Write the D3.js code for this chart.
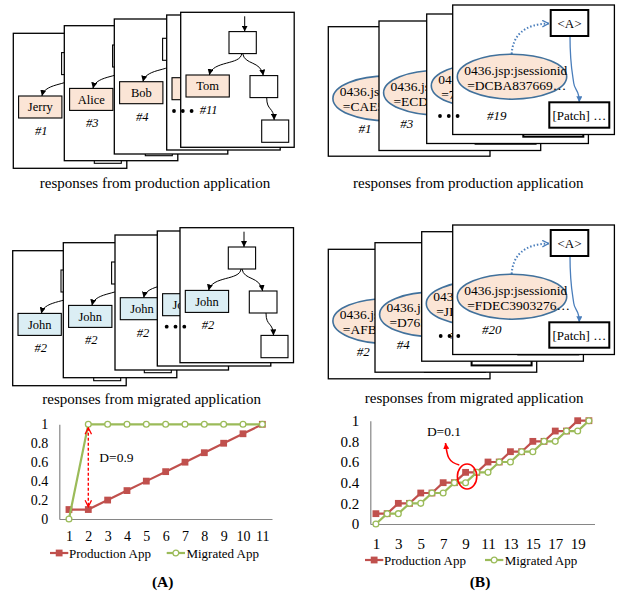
<!DOCTYPE html>
<html>
<head>
<meta charset="utf-8">
<title></title>
<script src="https://cdn.jsdelivr.net/npm/d3@7"></script>
<style>
    body { margin: 0; background: #fff; }
    svg text { font-family: "Liberation Serif", "Times New Roman", serif; fill: #000; }
    .num { font-style: italic; font-size: 12.5px; }
</style>
</head>
<body>
<script>

// ---- chart data ----
var catA  = [1, 2, 3, 4, 5, 6, 7, 8, 9, 10, 11];
var prodA = [0.1, 0.1, 0.2, 0.3, 0.4, 0.5, 0.6, 0.7, 0.8, 0.9, 1.0];
var migA  = [0, 1, 1, 1, 1, 1, 1, 1, 1, 1, 1];

var catB  = [1, 2, 3, 4, 5, 6, 7, 8, 9, 10, 11, 12, 13, 14, 15, 16, 17, 18, 19, 20];
var prodB = [0.1, 0.1, 0.2, 0.2, 0.3, 0.3, 0.4, 0.4, 0.5, 0.5, 0.6, 0.6, 0.7, 0.7, 0.8, 0.8, 0.9, 0.9, 1.0, 1.0];
var migB  = [0, 0.1, 0.1, 0.2, 0.2, 0.3, 0.3, 0.4, 0.4, 0.5, 0.5, 0.6, 0.6, 0.7, 0.7, 0.8, 0.8, 0.9, 0.9, 1.0];

var yTicks   = [0, 0.2, 0.4, 0.6, 0.8, 1];
var xTicksB  = [1, 3, 5, 7, 9, 11, 13, 15, 17, 19];
var seriesNames = ["Production App", "Migrated App"];

// ---- diagram labels ----
var prodNames = ["Jerry", "Alice", "Bob", "Dan", "Tom"];
var prodNums  = ["#1", "#3", "#4", "#8", "#11"];
var migNames  = ["John", "John", "John", "John", "John"];
var migNums   = ["#2", "#2", "#2", "#2", "#2"];
var sessKey      = "0436.jsp:jsessionid";
var sessProdIds  = ["=CAE5B217…", "=ECD90143…", "=7F2A6605…", "=DCBA837669…"];
var sessProdNums = ["#1", "#3", "#12", "#19"];
var sessMigIds   = ["=AFB3C071…", "=D765E192…", "=JIE04A7…", "=FDEC3903276…"];
var sessMigNums  = ["#2", "#4", "#9", "#20"];

var red = "#c0504d", green = "#9bbb59", blue = "#41719c", arrowBlue = "#4a7ebb";

var svg = d3.select("body").append("svg")
        .attr("width", 619)
        .attr("height", 591);

// arrow heads
var defs = svg.append("defs");
function marker(id, color, open) {
    var m = defs.append("marker")
            .attr("id", id)
            .attr("viewBox", "0 0 10 10")
            .attr("refX", open ? 9 : 10)
            .attr("refY", 5)
            .attr("markerUnits", "userSpaceOnUse")
            .attr("markerWidth", open ? 8 : 6)
            .attr("markerHeight", open ? 8 : 6)
            .attr("orient", "auto-start-reverse");
    if (open) {
        m.append("path").attr("d", "M1,1 L9,5 L1,9").attr("fill", "none")
                .attr("stroke", color).attr("stroke-width", 1.6);
    } else {
        m.append("path").attr("d", "M0,0 L10,5 L0,10 z").attr("fill", color);
    }
}
marker("ahBlack", "#000", false);
marker("ahBlue", arrowBlue, false);
marker("vBlue", arrowBlue, true);
marker("vRed", "#ff0000", true);
marker("ahRed", "#ff0000", false);

function box(g, x, y, w, h, fill, sw) {
    return g.append("rect").attr("x", x).attr("y", y).attr("width", w).attr("height", h)
            .attr("fill", fill).attr("stroke", "#000").attr("stroke-width", sw || 1.1);
}

// a card is covered on its right by the next one: keep only the characters
// that start before the edge, and clip the rest
var clipCount = 0;
function cutText(t, limit, clipId) {
    if (limit == null) return;
    var node = t.node(), full = node.textContent, bb = node.getBBox();
    if (bb.x >= limit - 2) { t.remove(); return; }
    if (bb.x + bb.width <= limit) return;
    t.attr("text-anchor", "start").attr("x", bb.x);
    var n = full.length;
    while (n > 1) {
        node.textContent = full.slice(0, n - 1);
        if (node.getComputedTextLength() < limit - bb.x - 1) break;
        n--;
    }
    node.textContent = full.slice(0, n);
    t.attr("clip-path", "url(#" + clipId + ")");
}
function makeClip(limit) {
    var id = "clip" + (clipCount++);
    defs.append("clipPath").attr("id", id).append("rect")
            .attr("x", -5).attr("y", -5).attr("width", limit + 5).attr("height", 200);
    return id;
}

// ---- tree cards (left column) ----
function treeCard(x, y, name, num, fill, limit) {
    var c = svg.append("g").attr("transform", "translate(" + x + "," + y + ")");
    var clipId = limit != null ? makeClip(limit) : null;
    c.append("rect").attr("width", 113.5).attr("height", 135)
            .attr("fill", "#fff").attr("stroke", "#000").attr("stroke-width", 1.3);
    var lines = [
        "M64,4 V19.3",
        "M61,41.3 C60,53 32,48 28.6,62.7",
        "M62,41.3 C64,53 80,48 82.6,63.3",
        "M86,85.3 C86,99 93,94 93.5,107.7"
    ];
    c.selectAll("path.edge").data(lines).enter().append("path")
            .attr("class", "edge")
            .attr("d", function (d) { return d; })
            .attr("fill", "none").attr("stroke", "#000").attr("stroke-width", 1)
            .attr("marker-end", "url(#ahBlack)");
    box(c, 48.3, 19.3, 27.3, 22, "#fff");
    box(c, 5.3, 62.7, 43.3, 22, fill);
    box(c, 69.3, 63.3, 27.7, 22, "#fff");
    box(c, 81, 107.7, 27, 22.3, "#fff");
    var t1 = c.append("text").attr("x", 27).attr("y", 78).attr("text-anchor", "middle")
            .style("font-size", "12.5px").text(name);
    var t2 = c.append("text").attr("class", "num").attr("x", 28).attr("y", 101.5)
            .attr("text-anchor", "middle").text(num);
    cutText(t1, limit, clipId);
    cutText(t2, limit, clipId);
}

var prodTreePos = [[13.3, 33.3], [64.3, 25.7], [114.3, 19], [166.7, 15], [180.7, 12.3]];
var migTreePos  = [[12.7, 250.7], [63.3, 242.7], [115, 235], [157.3, 231], [180, 227.7]];
function stack(pos, draw) {
    pos.forEach(function (p, i) {
        var limit = i < pos.length - 1 ? pos[i + 1][0] - p[0] : null;
        draw(p, i, limit);
    });
}
stack(prodTreePos, function (p, i, lim) { treeCard(p[0], p[1], prodNames[i], prodNums[i], "#fbe5d6", lim); });
stack(migTreePos, function (p, i, lim) { treeCard(p[0], p[1], migNames[i], migNums[i], "#dbeef4", lim); });

// ---- session cards (right column) ----
function sessCard(x, y, id, num, lx, ly, limit) {
    var c = svg.append("g").attr("transform", "translate(" + x + "," + y + ")");
    var clipId = limit != null ? makeClip(limit) : null;
    c.append("rect").attr("width", 161.7).attr("height", 129.5)
            .attr("fill", "#fff").attr("stroke", "#000").attr("stroke-width", 1.3);
    c.append("path").attr("d", "M59,49 C60,30 72,19 96,18.5")
            .attr("fill", "none").attr("stroke", arrowBlue).attr("stroke-width", 2)
            .attr("stroke-dasharray", "1.5,2").attr("marker-end", "url(#vBlue)");
    c.append("path").attr("d", "M117.3,31 C117.3,60 120,70 121,78 C122,86 126.6,84 126.6,97.3")
            .attr("fill", "none").attr("stroke", arrowBlue).attr("stroke-width", 1.3)
            .attr("marker-end", "url(#ahBlue)");
    box(c, 98, 5, 37.6, 26, "#fff", 2);
    box(c, 96.6, 97.3, 60, 25.4, "#fff", 2);
    var ts = [];
    ts.push(c.append("text").attr("x", 116.8).attr("y", 22.5).attr("text-anchor", "middle")
            .style("font-size", "13px").text("<A>"));
    ts.push(c.append("text").attr("x", 126.6).attr("y", 114.5).attr("text-anchor", "middle")
            .style("font-size", "13px").text("[Patch] …"));
    c.append("ellipse").attr("cx", 59.3).attr("cy", 71.7).attr("rx", 54.7).attr("ry", 22.5)
            .attr("fill", "#fbe5d6").attr("stroke", blue).attr("stroke-width", 1.6);
    ts.push(c.append("text").attr("x", 11.5).attr("y", 69.5).style("font-size", "13.5px").text(sessKey));
    ts.push(c.append("text").attr("x", 14.5).attr("y", 84.5).style("font-size", "13.5px").text(id));
    ts.push(c.append("text").attr("class", "num").attr("x", lx).attr("y", ly + 4.5)
            .attr("text-anchor", "middle").style("font-size", "13px").text(num));
    ts.forEach(function (t) { cutText(t, limit, clipId); });
}

var prodSessPos = [[328.3, 26.7], [379, 21], [426.7, 14], [452.7, 5]];
var prodSessLab = [[36.7, 101.6], [27.7, 102.3], [40, 105], [44, 110]];
var migSessPos  = [[328.3, 249.3], [375, 242.7], [421.7, 231.7], [452.7, 225]];
var migSessLab  = [[35, 102.4], [28.3, 102.3], [35, 103], [39, 104.3]];
stack(prodSessPos, function (p, i, lim) {
    sessCard(p[0], p[1], sessProdIds[i], sessProdNums[i], prodSessLab[i][0], prodSessLab[i][1], lim);
});
stack(migSessPos, function (p, i, lim) {
    sessCard(p[0], p[1], sessMigIds[i], sessMigNums[i], migSessLab[i][0], migSessLab[i][1], lim);
});

// ellipsis dots between the stacked cards
var dots = [[174, 111], [166.7, 326.7], [440, 116], [440.7, 336]];
dots.forEach(function (d) {
    [0, 8.8, 17.6].forEach(function (dx) {
        svg.append("circle").attr("cx", d[0] + dx).attr("cy", d[1]).attr("r", 1.9).attr("fill", "#000");
    });
});

// captions
var captions = [
    [155, 187.5, "responses from production application"],
    [468.3, 187.5, "responses from production application"],
    [151.7, 404, "responses from migrated application"],
    [474.2, 402.5, "responses from migrated application"]
];
captions.forEach(function (c) {
    svg.append("text").attr("x", c[0]).attr("y", c[1]).attr("text-anchor", "middle")
            .style("font-size", "15px").text(c[2]);
});

// ---- line charts ----
function drawChart(cats, prod, mig, o) {
    var x = d3.scalePoint().domain(cats).range([o.x0, o.x1]).padding(0.5);
    var y = d3.scaleLinear().domain([0, 1]).range([o.yb, o.yt]);
    var g = svg.append("g");

    var ya = g.append("g").attr("transform", "translate(" + o.x0 + ",0)")
            .call(d3.axisLeft(y).tickValues(yTicks).tickSize(0).tickPadding(11)
                    .tickFormat(function (d) { return d; }));
    var xa = g.append("g").attr("transform", "translate(0," + o.yb + ")")
            .call(d3.axisBottom(x).tickValues(o.xTicks || cats).tickSize(0).tickPadding(o.xPad));
    [ya, xa].forEach(function (a) {
        a.attr("font-family", null).attr("font-size", null);
        a.select(".domain").attr("stroke", "#868686").attr("stroke-width", 1.2);
        a.selectAll("text").style("font-size", o.fs + "px");
    });

    var line = d3.line()
            .x(function (d, i) { return x(cats[i]); })
            .y(function (d) { return y(d); });

    g.append("path").datum(prod).attr("d", line)
            .attr("fill", "none").attr("stroke", red).attr("stroke-width", 2.2);
    g.selectAll("rect.pm").data(prod).enter().append("rect")
            .attr("x", function (d, i) { return x(cats[i]) - 3.4; })
            .attr("y", function (d) { return y(d) - 3.4; })
            .attr("width", 6.8).attr("height", 6.8).attr("fill", red);

    g.append("path").datum(mig).attr("d", line)
            .attr("fill", "none").attr("stroke", green).attr("stroke-width", 2.2);
    g.selectAll("circle.mm").data(mig).enter().append("circle")
            .attr("cx", function (d, i) { return x(cats[i]); })
            .attr("cy", function (d) { return y(d); })
            .attr("r", 2.9).attr("fill", "#fff").attr("stroke", green).attr("stroke-width", 1.3);

    // legend
    var lg = g.append("g").attr("transform", "translate(0," + o.ly + ")");
    lg.append("line").attr("x1", o.lx[0]).attr("x2", o.lx[0] + 18.3).attr("stroke", red).attr("stroke-width", 2.2);
    lg.append("rect").attr("x", o.lx[0] + 9.15 - 3.4).attr("y", -3.4).attr("width", 6.8).attr("height", 6.8).attr("fill", red);
    lg.append("text").attr("x", o.lx[0] + 19).attr("y", 4.5).style("font-size", "13px").text(seriesNames[0]);
    lg.append("line").attr("x1", o.lx[1]).attr("x2", o.lx[1] + 18.3).attr("stroke", green).attr("stroke-width", 2.2);
    lg.append("circle").attr("cx", o.lx[1] + 9.15).attr("r", 2.9).attr("fill", "#fff").attr("stroke", green).attr("stroke-width", 1.3);
    lg.append("text").attr("x", o.lx[1] + 19.7).attr("y", 4.5).style("font-size", "13px").text(seriesNames[1]);

    g.append("text").attr("x", o.tx).attr("y", 587).attr("text-anchor", "middle")
            .style("font-size", "15.5px").style("font-weight", "bold").text(o.title);

    return {x: x, y: y, g: g};
}

var A = drawChart(catA, prodA, migA, {
    x0: 59.3, x1: 272, yb: 519, yt: 424.3, fs: 14, xPad: 12,
    lx: [50, 166.7], ly: 553, tx: 162.7, title: "(A)"
});
var B = drawChart(catB, prodB, migB, {
    x0: 370.3, x1: 594.5, yb: 524, yt: 420.7, fs: 15, xPad: 14, xTicks: xTicksB,
    lx: [365, 485], ly: 560, tx: 480, title: "(B)"
});

// annotations
A.g.append("path")
        .attr("d", "M" + A.x(2) + "," + (A.y(1) + 3.5) + " V" + (A.y(prodA[1]) - 2.8))
        .attr("stroke", "#ff0000").attr("stroke-width", 1.4).attr("stroke-dasharray", "3,2")
        .attr("marker-start", "url(#vRed)").attr("marker-end", "url(#vRed)");
A.g.append("text").attr("x", 99.3).attr("y", 461.7).style("font-size", "13.5px").text("D=0.9");

var ex = B.x(9) + 1.5, ey = B.y((prodB[8] + migB[8]) / 2) - 1;
B.g.append("ellipse").attr("cx", ex).attr("cy", ey).attr("rx", 9.7).attr("ry", 12.5)
        .attr("fill", "none").attr("stroke", "#ff0000").attr("stroke-width", 1.6);
B.g.append("path").attr("d", "M459.3,465 C448,462 447,456 445.5,443")
        .attr("fill", "none").attr("stroke", "#ff0000").attr("stroke-width", 1.6)
        .attr("marker-end", "url(#ahRed)");
B.g.append("text").attr("x", 444).attr("y", 435.7).attr("text-anchor", "middle")
        .style("font-size", "13.5px").text("D=0.1");
</script>
</body>
</html>
